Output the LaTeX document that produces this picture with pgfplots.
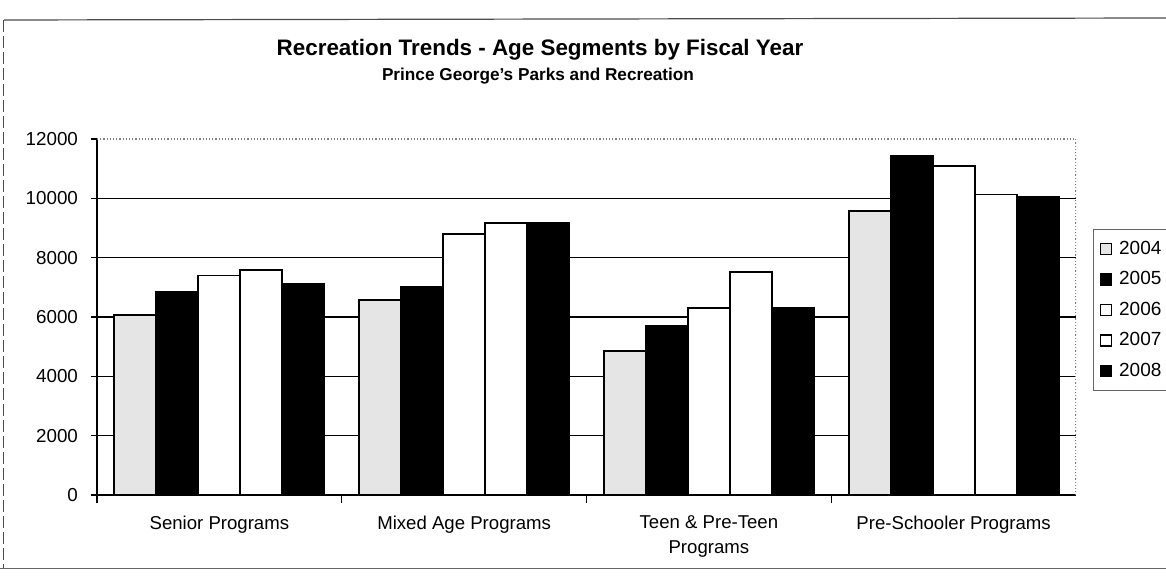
\documentclass[border=0pt]{standalone}
\usepackage{fontspec}
\setmainfont{Liberation Sans}
\usepackage{pgfplots}
\pgfplotsset{compat=1.18}
\begin{document}
\begin{tikzpicture}
\begin{axis}[
  scale only axis, width=489.5pt, height=178pt,
  ybar=0pt, bar width=21pt,
  xmin=-0.5, xmax=3.5, ymin=0, ymax=12000,
  axis x line*=bottom, axis y line*=left,
  axis line style={-, black, line width=0.7pt},
  xtick={0,1,2,3},
  xticklabels={Senior Programs, Mixed Age Programs, {Teen \& Pre-Teen\\Programs}, Pre-Schooler Programs},
  xticklabel style={align=center, font=\fontsize{9.3}{12.5}\selectfont, yshift=-4pt},
  major x tick style={draw=none},
  minor xtick={-0.5,0.5,1.5,2.5},
  minor x tick style={black, line width=0.6pt},
  minor tick length=4pt,
  tick align=outside,
  ytick={0,2000,...,10000},
  extra y ticks={12000},
  extra y tick style={grid=none},
  scaled y ticks=false,
  ymajorgrids,
  y grid style={black, line width=0.6pt},
  major y tick style={black, line width=0.6pt},
  major tick length=3pt,
  yticklabel style={font=\fontsize{9.4}{11}\selectfont, xshift=-3pt},
  /pgf/number format/assume math mode=true,
  /pgf/number format/1000 sep={},
  every axis plot/.append style={draw=black, line width=0.9pt},
  legend image code/.code={\draw[#1, line width=0.6pt] (0pt,-2.75pt) rectangle (5.5pt,2.75pt);},
  legend style={at={(1.0174,0.747)}, anchor=north west, draw=black!60, line width=0.5pt,
    font=\fontsize{9.5}{11}\selectfont, row sep=4.7pt, column sep=2.5pt, inner xsep=3pt, inner ysep=4.5pt,
    nodes={inner sep=1.2pt}},
  legend cell align=left,
]
\addplot[fill=black!10] coordinates {(0,6080) (1,6570) (2,4850) (3,9580)};
\addplot[fill=black] coordinates {(0,6850) (1,7030) (2,5700) (3,11430)};
\addplot[fill=white] coordinates {(0,7400) (1,8800) (2,6300) (3,11100)};
\addplot[fill=white] coordinates {(0,7590) (1,9170) (2,7510) (3,10130)};
\addplot[fill=black] coordinates {(0,7110) (1,9170) (2,6300) (3,10060)};
\legend{2004,2005,2006,2007,2008}
\draw[black!50, densely dotted, line width=0.6pt] (rel axis cs:0,1) -- (rel axis cs:1,1) -- (rel axis cs:1,0);
\coordinate (LL) at (rel axis cs:0,0);
\end{axis}
\pgfresetboundingbox
\begin{scope}[x=1pt, y=1pt, shift={(LL)}, shift={(-48.5,-41.5)}]
\useasboundingbox (0,0) rectangle (583,289);
% scanned page frame
\draw[black!70, line width=0.6pt] (2,279) -- (583,280);
\draw[black!70, line width=0.5pt, dash pattern=on 6pt off 2pt] (2,279) -- (2,5);
\draw[black!60, line width=0.5pt] (0,5) -- (583,5);
\node[font=\bfseries\fontsize{11.2}{13}\selectfont] at (270,264) {Recreation Trends - Age Segments by Fiscal Year};
\node[font=\bfseries\fontsize{8.6}{10}\selectfont] at (269,251) {Prince George's Parks and Recreation};
\end{scope}
\end{tikzpicture}
\end{document}
